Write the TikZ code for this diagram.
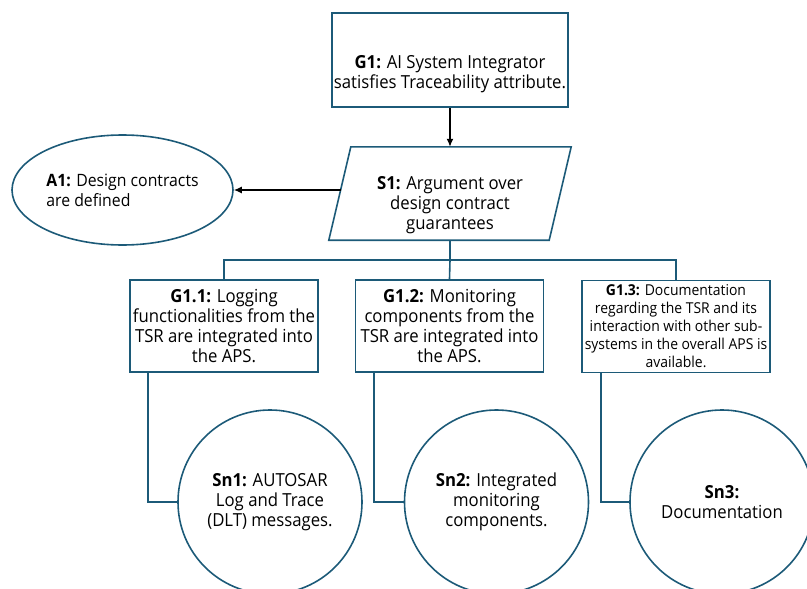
\documentclass[tikz,border=0pt]{standalone}
\usepackage{fontspec}
\setmainfont{Open Sans}[FakeStretch=0.93]
\usetikzlibrary{arrows.meta,shapes.geometric}
\definecolor{gsnteal}{RGB}{28,90,120}
\begin{document}
\begin{tikzpicture}[x=1pt,y=-1pt,
  every node/.style={font=\fontsize{18}{20}\selectfont, text=black, inner sep=0pt, align=center},
  gsnline/.style={draw=gsnteal, line width=1.6pt},
  goalbox/.style={gsnline, rectangle, minimum width=188pt, minimum height=92pt},
  solution/.style={gsnline, ellipse, minimum width=184pt, minimum height=184pt},
  strategy/.style={rectangle, minimum width=220pt, minimum height=93pt},
  assumption/.style={gsnline, ellipse, minimum width=221pt, minimum height=110pt},
  smalltext/.style={font=\fontsize{15}{18}\selectfont},
  arr/.style={draw=black, line width=1.4pt, -{Latex[length=8pt,width=7pt]}}
]
\useasboundingbox (0,0) rectangle (807,589);
\clip (0,0) rectangle (807,589);

% top goal
\node[goalbox, minimum width=236pt, minimum height=94pt] (G1) at (450,60) {};
\node (G1t) at (450,74) {\textbf{G1:} AI System Integrator\\satisfies Traceability attribute.};

% strategy (parallelogram drawn around its anchor box) and assumption
\node[strategy] (S1) at (450,193.5) {};
\draw[gsnline] ([xshift=11pt]S1.north west) -- ([xshift=11pt]S1.north east)
  -- ([xshift=-11pt]S1.south east) -- ([xshift=-11pt]S1.south west) -- cycle;
\node (S1t) at (450,205) {\textbf{S1:} Argument over\\design contract\\guarantees};
\node[assumption, align=left, font=\fontsize{17}{20}\selectfont] (A1) at (122.5,190) {\textbf{A1:} Design contracts\\are defined};

\draw[arr] (G1.south) -- (S1.north);
\draw[arr] ([xshift=1pt]S1.west |- A1.east) -- (A1.east);

% sub-goals
\node[goalbox] (G11) at (224,326) {\textbf{G1.1:} Logging\\functionalities from the\\TSR are integrated into\\the APS.};
\node[goalbox] (G12) at (449.5,326) {\textbf{G1.2:} Monitoring\\components from the\\TSR are integrated into\\the APS.};
\node[goalbox, smalltext] (G13) at (676,326.5) {\textbf{G1.3:} Documentation\\regarding the TSR and its\\interaction with other sub-\\systems in the overall APS is\\available.};

\coordinate (bus) at (450,260);
\draw[gsnline] (S1.south) -- (bus);
\draw[gsnline] (bus) -| (G11.north);
\draw[gsnline] (bus) -| (G13.north);
\draw[gsnline] (bus) -- (G12.north);

% solutions
\node[solution] (Sn1) at (270,502) {\textbf{Sn1:} AUTOSAR\\Log and Trace\\(DLT) messages.};
\node[solution] (Sn2) at (496.5,502) {\textbf{Sn2:} Integrated\\monitoring\\components.};
\node[solution] (Sn3) at (722,502) {\textbf{Sn3:}\\Documentation};

\draw[gsnline] ([xshift=19pt]G11.south west) |- (Sn1.west);
\draw[gsnline] ([xshift=19pt]G12.south west) |- (Sn2.west);
\draw[gsnline] ([xshift=20pt]G13.south west) |- (Sn3.west);
\end{tikzpicture}
\end{document}
